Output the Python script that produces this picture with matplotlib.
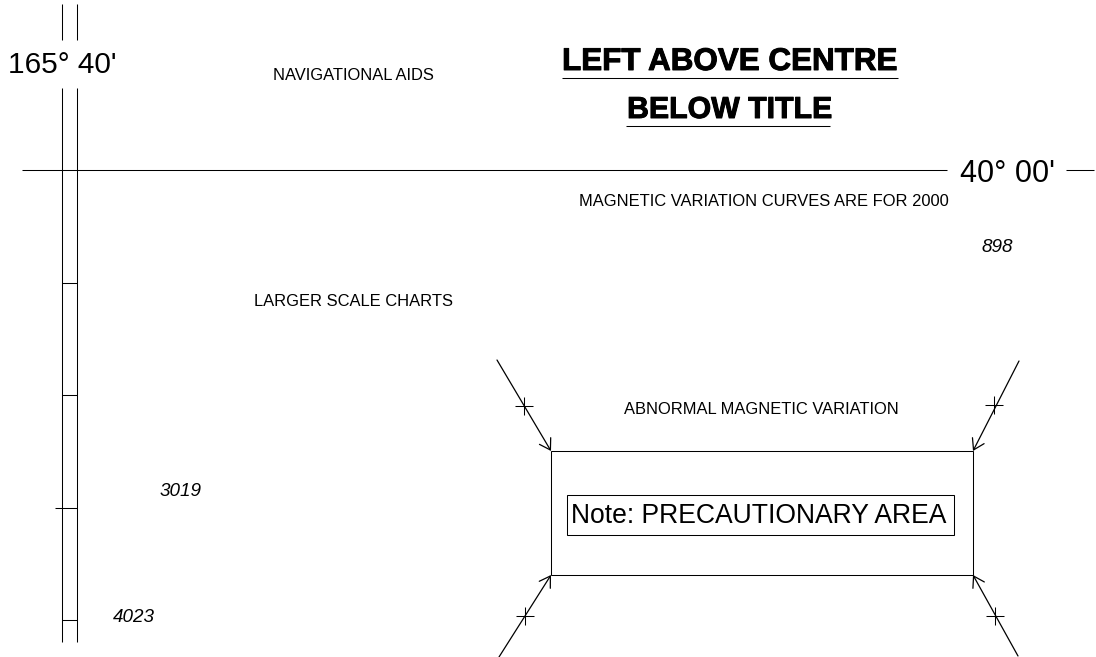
import matplotlib
matplotlib.use('Agg')
import matplotlib.pyplot as plt
import matplotlib.patheffects as pe
from matplotlib.patches import Rectangle

plt.rcParams['font.family'] = ['Liberation Sans', 'DejaVu Sans']

# Labels
title_lines = ['LEFT ABOVE CENTRE', 'BELOW TITLE']
small_labels = ['NAVIGATIONAL AIDS', 'MAGNETIC VARIATION CURVES ARE FOR 2000',
                'LARGER SCALE CHARTS', 'ABNORMAL MAGNETIC VARIATION']
small_x = [353, 764, 353, 761]
small_y = [76, 201, 301, 409]
depths = ['898', '3019', '4023']
depth_x = [997, 181, 134]
depth_y = [247, 491, 617]

# Graticule positions
meridians = [62, 77]
parallel_y = 169.5
border_ticks = [283, 395, 508, 620]
border_tick_start = [62, 62, 55, 62]

# Precautionary area
area_left, area_right = 551, 973
area_top, area_bottom = 451, 575
leg_ends = [(497, 360), (499, 657), (1019, 361), (1018, 656)]
leg_tips = [(551, 451), (551, 575), (973, 451), (973, 575)]
leg_marks = [(524, 406), (525, 616), (994, 405), (995, 616)]

fig = plt.figure(figsize=(10.96, 6.57), dpi=100)
ax = fig.add_axes([0, 0, 1, 1])
ax.set_xlim(0, 1096)
ax.set_ylim(657, 0)
ax.axis('off')

line = dict(color='black', lw=0.75, solid_capstyle='butt')

# Meridians, broken around the longitude label
for x in meridians:
    ax.plot([x, x], [4, 40], **line)
    ax.plot([x, x], [88, 642], **line)
ax.text(62, 65, "165° 40'", fontsize=21.4, ha='center', va='center')

# Parallel, broken around the latitude label
ax.plot([22, 947], [parallel_y, parallel_y], **line)
ax.plot([1066, 1094], [parallel_y, parallel_y], **line)
ax.text(1007.5, 174, "40° 00'", fontsize=22, ha='center', va='center')

# Border ticks
for y, x0 in zip(border_ticks, border_tick_start):
    ax.plot([x0, 77], [y, y], **line)

# Title with rules underneath
heavy = [pe.withStroke(linewidth=0.7, foreground='black')]
ax.text(730, 62, title_lines[0], fontsize=22.6, fontweight='bold', ha='center', va='center',
        path_effects=heavy)
ax.plot([562, 898], [78, 78], **line)
ax.text(729.5, 110, title_lines[1], fontsize=21.8, fontweight='bold', ha='center', va='center',
        path_effects=heavy)
ax.plot([626, 830], [126, 126], **line)

for s, x, y in zip(small_labels, small_x, small_y):
    ax.text(x, y, s, fontsize=11.9, ha='center', va='center')
for s, x, y in zip(depths, depth_x, depth_y):
    ax.text(x, y, s, fontsize=13.6, style='italic', ha='center', va='center')

# Area outline and note
ax.add_patch(Rectangle((area_left, area_top), area_right - area_left, area_bottom - area_top,
                       fill=False, ec='black', lw=0.75))
ax.add_patch(Rectangle((567, 495), 387, 40, fill=False, ec='black', lw=0.75))
ax.text(759, 516, 'Note: PRECAUTIONARY AREA', fontsize=19.1, ha='center', va='center')

# Legs running into the area corners
for end, tip, mark in zip(leg_ends, leg_tips, leg_marks):
    ax.annotate('', xy=tip, xytext=end,
                arrowprops=dict(arrowstyle='->,head_length=0.75,head_width=0.47',
                                color='black', lw=0.9, shrinkA=0, shrinkB=0))
    ax.plot([mark[0] - 9, mark[0] + 9], [mark[1], mark[1]], **line)
    ax.plot([mark[0], mark[0]], [mark[1] - 9, mark[1] + 9], **line)

fig.savefig('out.png', dpi=100)
